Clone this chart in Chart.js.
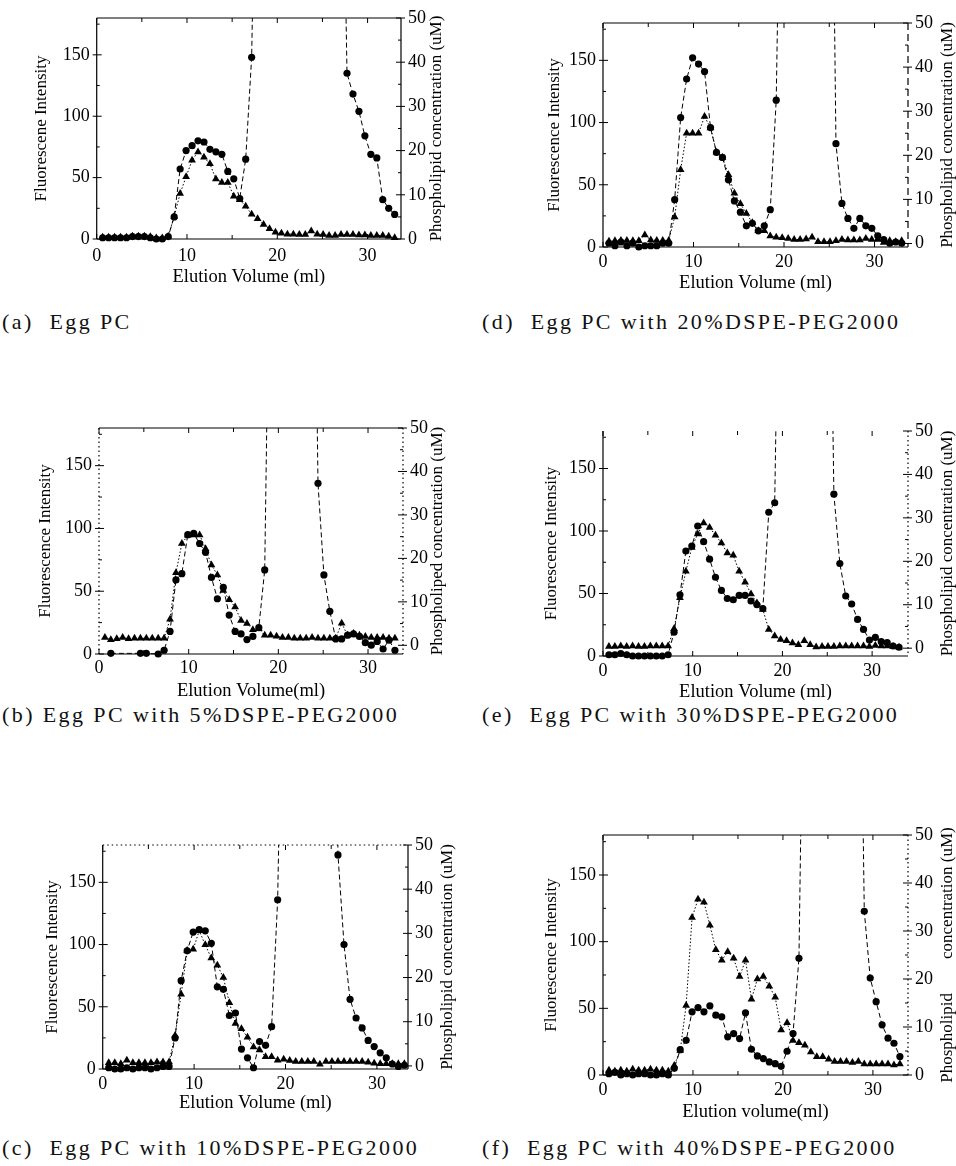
<!DOCTYPE html>
<html>
<head>
<meta charset="utf-8">
<script src="https://cdn.jsdelivr.net/npm/chart.js@4.4.1/dist/chart.umd.min.js"></script>
<style>
  html, body { margin: 0; padding: 0; background: #fff; }
  body { width: 956px; height: 1166px; position: relative; overflow: hidden; }
  canvas { position: absolute; }
  .cap { position: absolute; font-family: "Liberation Serif", serif; font-size: 22px; letter-spacing: 2.4px; white-space: pre; color: #111; line-height: 26px; }
</style>
</head>
<body>
<script>
// ---------- DATA ----------
// Elution volume of each collected fraction (ml)
const volumes = [0.66,1.32,1.98,2.64,3.3,3.96,4.62,5.28,5.94,6.6,7.26,7.92,8.58,9.24,9.9,10.56,11.22,11.88,12.54,13.2,13.86,14.52,15.18,15.84,16.5,17.16,17.82,18.48,19.14,19.8,20.46,21.12,21.78,22.44,23.1,23.76,24.42,25.08,25.74,26.4,27.06,27.72,28.38,29.04,29.7,30.36,31.02,31.68,32.34,33.0];

// Tick labels
const xTicks = [0, 10, 20, 30];
const fluoTicks = [0, 50, 100, 150];
const lipidTicks = [0, 10, 20, 30, 40, 50];

// (a) Egg PC
const fluoA = [1,1,1,1,1,2,2,2,1,0,0, 2,18,57,72,76,80,79,73,71,69,55,49,33,65,148, 420,900,1400,1700,1800,1750,1600,1400,1200,1000,850,700,600,500,420, 135,118,104,84,69,66,32,25,20];
const lipidA = [0.4,0.4,0.4,0.4,0.4,0.6,0.6,0.6,0.5,0.2,0.2, 0.6,5.1,10.3,14.1,17.8,19.7,18.5,17.0,13.6,12.8,12.8,9.7,8.9,7.4,5.6,4.6,3.3,2.3,1.5,1.3, 1.1,1.1,1.0,1.0,1.8,1.1,1.0,0.8,0.8,1.0,1.0,1.0,0.9,0.9,0.8,0.8,0.8,0.6,0.3];

// (b) Egg PC with 5%DSPE-PEG2000
const fluoB = [null,0.5,null,null,null,null,0.5,0.5,null,0,3, 18,59,64,95,96,88,81,61,44,53,31,18,16,11.5,14,21,67, 400,850,1300,1500,1400,1200,900,500, 136,63,34,12,12,15,16,14,9,7,10,4,11,3];
const lipidB = [1.8,1.3,1.5,1.8,1.5,1.6,1.6,1.6,1.6,1.6,1.6, 6.0,16.7,23.4,25.3,25.4,25.4,22.2,18.5,16.2,12.6,10.5,8.8,5.7,5.0,3.6,3.8,2.3,2.3, 2.1,1.8,1.8,1.6,1.6,1.6,1.8,1.6,1.6,1.6,1.6,5.1,2.3,2.7,2.3,2.0,1.8,1.8,1.8,1.6,1.6];

// (c) Egg PC with 10%DSPE-PEG2000
const fluoC = [1,0,0,1,0,1,1,0,1,2,2, 25,71,95,110,112,111,101,66,64,43,45,16,9,1,22,19,34,136, 400,850,1300,1600,1700,1600,1300,900,600, 172,100,56,41,33,23,18,13,9,4,2,3];
const lipidC = [0.7,0.7,0.5,1.3,0.7,0.7,0.7,0.7,0.9,0.9,0.9, 6.9,16.2,26.1,26.4,30.6,27.4,24.4,22.8,20,14.3,9.6,8.4,6.5,4.3,3.6,2.1,2.1,1.3, 1.5,1.2,1.0,1.0,1.0,1.0,0.4,1.0,1.0,1.0,1.0,1.0,1.0,1.0,0.8,0.6,0.5,0.5,0.5,0.5,0.5];

// (d) Egg PC with 20%DSPE-PEG2000
const fluoD = [3,1,4,1,3,0,1,1,1,3,3, 38,104,135,152,147,141,96,76,72,54,37,28,17,19,13,17,30,118, 420,900,1300,1500,1400,1200,900,700,500, 83,35,23,15,23,17,15,9,6,3,4,3];
const lipidD = [0.5,0.6,0.7,0.7,0.6,0.6,1.9,0.8,0.7,0.7,0.7, 6.0,16.7,25.0,25.0,25.0,28.8,26.2,20.7,19.5,15.6,11.4,9.0,6.8,4.7,2.9,2.9,1.7,1.4, 1.3,1.1,0.9,0.9,1.0,1.4,0.4,0.4,0.4,0.6,0.9,0.8,0.8,0.8,1.1,0.9,0.9,0.2,0.6,0.4,0.6];

// (e) Egg PC with 30%DSPE-PEG2000
const fluoE = [1,1,2,1,0,0,0,0,0,0,1, 19,49,84,88,104,91.5,77.5,63,52.5,46,45,48.5,48.5,44,41,38,115,122.6, 420,900,1300,1500,1450,1300,1000,700,450, 129.5,74,48,41.6,29.3,21.3,12.8,14.9,11.5,10.7,8,7];
const lipidE = [0.4,0.4,0.5,0.4,0.5,0.4,0.4,0.5,0.5,0.5,0.5, 4.5,11.6,17.7,23.2,26.3,28.8,27.8,26,24.2,21.9,21.4,17.7,15.2,12.5,10.4,8.9,4.3,2.8,2.0,1.7,1.2,0.8,1.7, 0.8,0.3,0.4,0.4,0.4,0.5,0.5,0.5,0.5,0.5,0.4,0.6,0.5,0.5,0.4,0.2];

// (f) Egg PC with 40%DSPE-PEG2000
const fluoF = [1,2,0,1,0,1,1,0,0,1,0, 5,19,26,47.4,50.6,47.4,51.9,44.9,43.6,28.6,31.1,27.3,46.6,19.3,14.3,12.3,9.8,8.5,6.5,17.8,31.1,87.5, 400,850,1300,1500,1600,1500,1300,1000,700,450, 122.8,72.7,55,37.6,27.6,23.8,13.8];
const lipidF = [1.0,0.8,1.0,0.8,1.2,1.0,1.0,1.2,1.0,1.0,0.8, 2.0,5.1,14.5,32.8,36.6,36.0,31.2,26.1,23.9,25.7,24.3,20.5,23.9,15.8,20.0,20.5,18.5,16.2,9.4,10.9, 7.2,6.7,6.2,4.8,3.8,3.8,3.3,2.8,2.8,2.8,2.6,2.8,2.3,2.3,2.3,2.3,2.3,2.1,2.3];

// Texts
const captions = {
  a: '(a)  Egg PC',
  b: '(b) Egg PC with 5%DSPE-PEG2000',
  c: '(c)  Egg PC with 10%DSPE-PEG2000',
  d: '(d)  Egg PC with 20%DSPE-PEG2000',
  e: '(e)  Egg PC with 30%DSPE-PEG2000',
  f: '(f)  Egg PC with 40%DSPE-PEG2000'
};

// ---------- LAYOUT (positions / styles only) ----------
const panels = [
  {key:'a', fluo:fluoA, lipid:lipidA, box:[0,0,478,300],   L:96.7, R:401, T:18,  B:239,  xMax:33.7, rMin:0,
   xTitle:'Elution Volume (ml)', lTitle:'Fluorescene Intensity', rTitle:'Phospholipid concentration (uM)',
   lOff:55, rOff:36, xOff:38, xPad:6, sides:{top:'solid',bottom:'solid',left:'solid',right:'solid'}, cap:[2,322]},
  {key:'d', fluo:fluoD, lipid:lipidD, box:[478,0,478,300], L:603, R:908, T:23, B:247, xMax:33.7, rMin:-0.8,
   xTitle:'Elution Volume (ml)', lTitle:'Fluorescence Intensity', rTitle:'Phospholipid concentration (uM)',
   lOff:48, rOff:40, xOff:36, xPad:4, sides:{top:'solid',bottom:'solid',left:'solid',right:'dashed'}, cap:[482,322]},
  {key:'b', fluo:fluoB, lipid:lipidB, box:[0,390,478,310], L:99, R:403, T:428, B:654, xMax:33.9, rMin:-2,
   xTitle:'Elution Volume(ml)', lTitle:'Fluorescence Intensity', rTitle:'Phospholiped concentration (uM)',
   lOff:53, rOff:35, xOff:37, xPad:3, sides:{top:'solid',bottom:'solid',left:'dotted',right:'dotted'}, cap:[2,715]},
  {key:'e', fluo:fluoE, lipid:lipidE, box:[478,390,478,310], L:603, R:908, T:431, B:656, xMax:34.0, rMin:-1.8,
   xTitle:'Elution Volume (ml)', lTitle:'Fluorescence Intensity', rTitle:'Phospholipid concentration (uM)',
   lOff:51, rOff:40, xOff:36, xPad:4, sides:{top:'none',bottom:'solid',left:'solid',right:'dotted'}, cap:[482,715]},
  {key:'c', fluo:fluoC, lipid:lipidC, box:[0,790,478,340], L:102.7, R:408, T:845, B:1069, xMax:33.4, rMin:-0.7,
   xTitle:'Elution Volume (ml)', lTitle:'Fluorescence Intensity', rTitle:'Phospholipid concentration (uM)',
   lOff:50, rOff:40, xOff:34, xPad:4, sides:{top:'dotted',bottom:'solid',left:'solid',right:'solid'}, cap:[2,1148]},
  {key:'f', fluo:fluoF, lipid:lipidF, box:[478,790,478,340], L:603, R:908, T:835, B:1075, xMax:33.9, rMin:0,
   xTitle:'Elution volume(ml)', lTitle:'Fluorescence Intensity', rTitle:'Phospholipid        concentration (uM)',
   lOff:51, rOff:40, xOff:37, xPad:4, sides:{top:'solid',bottom:'solid',left:'solid',right:'dotted'}, cap:[482,1148]}
];

const FONT = '"Liberation Serif", "Times New Roman", serif';
Chart.defaults.font.family = FONT;
Chart.defaults.color = '#000';

const framePlugin = {
  id: 'frame',
  afterDraw(chart, args, o) {
    const {ctx, chartArea: a, scales} = chart;
    const xs = scales.x, yl = scales.yL, yr = scales.yR;
    ctx.save();
    ctx.strokeStyle = '#000';
    ctx.lineWidth = 1.2;
    const side = (style, x1, y1, x2, y2) => {
      if (style === 'none') return;
      ctx.setLineDash(style === 'dotted' ? [1.5, 3] : style === 'dashed' ? [7, 4] : []);
      ctx.beginPath(); ctx.moveTo(x1, y1); ctx.lineTo(x2, y2); ctx.stroke();
    };
    side(o.sides.top, a.left, a.top, a.right, a.top);
    side(o.sides.bottom, a.left, a.bottom, a.right, a.bottom);
    side(o.sides.left, a.left, a.top, a.left, a.bottom);
    side(o.sides.right, a.right, a.top, a.right, a.bottom);
    ctx.setLineDash([]);
    ctx.lineWidth = 1;
    ctx.beginPath();
    for (let v = 0; v <= xs.max; v += 5) {
      const p = xs.getPixelForValue(v);
      const len = v % 10 === 0 ? 5 : 4;
      ctx.moveTo(p, a.bottom); ctx.lineTo(p, a.bottom - len);
      ctx.moveTo(p, a.top); ctx.lineTo(p, a.top + len);
    }
    for (let v = 0; v <= yl.max; v += 25) {
      const p = yl.getPixelForValue(v);
      ctx.moveTo(a.left, p); ctx.lineTo(a.left + (v % 50 === 0 ? 5 : 3), p);
      if (v % 50 === 0) { ctx.moveTo(a.left - 4, p); ctx.lineTo(a.left, p); }
    }
    for (let v = 0; v <= yr.max; v += 5) {
      const p = yr.getPixelForValue(v);
      ctx.moveTo(a.right, p); ctx.lineTo(a.right - (v % 10 === 0 ? 5 : 3), p);
      if (v % 10 === 0) { ctx.moveTo(a.right, p); ctx.lineTo(a.right + 4, p); }
    }
    ctx.stroke();
    ctx.fillStyle = '#000';
    ctx.textAlign = 'center';
    ctx.textBaseline = 'middle';
    ctx.font = '18.5px ' + FONT;
    ctx.fillText(o.xTitle, (a.left + a.right) / 2, a.bottom + o.xOff);
    ctx.font = '17px ' + FONT;
    ctx.save();
    ctx.translate(a.left - o.lOff, (a.top + a.bottom) / 2);
    ctx.rotate(-Math.PI / 2);
    ctx.fillText(o.lTitle, 0, 0);
    ctx.restore();
    ctx.save();
    ctx.translate(a.right + o.rOff, (a.top + a.bottom) / 2);
    ctx.rotate(-Math.PI / 2);
    ctx.fillText(o.rTitle, 0, 0);
    ctx.restore();
    ctx.restore();
  }
};

function setTicks(arr) {
  return scale => { scale.ticks = arr.map(v => ({ value: v })); };
}

panels.forEach(p => {
  const [bx, by, bw, bh] = p.box;
  const cv = document.createElement('canvas');
  cv.width = bw; cv.height = bh;
  cv.style.left = bx + 'px'; cv.style.top = by + 'px';
  cv.style.width = bw + 'px'; cv.style.height = bh + 'px';
  document.body.appendChild(cv);

  const lw = p.L - bx, rw = bx + bw - p.R, pt = p.T - by, xh = by + bh - p.B;

  new Chart(cv.getContext('2d'), {
    type: 'line',
    data: {
      datasets: [
        {
          label: 'Fluorescence',
          data: volumes.map((v, i) => ({ x: v, y: p.fluo[i] })),
          yAxisID: 'yL',
          borderColor: '#000', backgroundColor: '#000', borderWidth: 1,
          borderDash: [5, 3],
          pointStyle: 'circle', pointRadius: 3.6, pointBorderWidth: 0,
          pointBackgroundColor: '#000',
          spanGaps: true,
          clip: { left: 6, right: 6, top: 0, bottom: 6 }
        },
        {
          label: 'Phospholipid',
          data: volumes.map((v, i) => ({ x: v, y: p.lipid[i] })),
          yAxisID: 'yR',
          borderColor: '#000', backgroundColor: '#000', borderWidth: 1,
          borderDash: [1.5, 2],
          pointStyle: 'triangle', pointRadius: 4.5, pointBorderWidth: 0,
          pointBackgroundColor: '#000',
          clip: { left: 6, right: 6, top: 0, bottom: 6 }
        }
      ]
    },
    options: {
      responsive: false,
      animation: false,
      devicePixelRatio: 1,
      layout: { autoPadding: false, padding: { top: pt, left: 0, right: 0, bottom: 0 } },
      plugins: {
        legend: { display: false },
        tooltip: { enabled: false },
        frame: { sides: p.sides, xTitle: p.xTitle, lTitle: p.lTitle, rTitle: p.rTitle, lOff: p.lOff, rOff: p.rOff, xOff: p.xOff }
      },
      scales: {
        x: {
          type: 'linear', min: 0, max: p.xMax,
          afterBuildTicks: setTicks(xTicks),
          afterFit: s => { s.height = xh; },
          grid: { display: false, drawTicks: false },
          border: { display: false },
          ticks: { padding: p.xPad, font: { size: 18 }, color: '#000', maxRotation: 0 }
        },
        yL: {
          type: 'linear', position: 'left', min: 0, max: 180,
          afterBuildTicks: setTicks(fluoTicks),
          afterFit: s => { s.width = lw; },
          grid: { display: false, drawTicks: false },
          border: { display: false },
          ticks: { padding: 7, font: { size: 18 }, color: '#000' }
        },
        yR: {
          type: 'linear', position: 'right', min: p.rMin, max: 50,
          afterBuildTicks: setTicks(lipidTicks),
          afterFit: s => { s.width = rw; },
          grid: { display: false, drawTicks: false },
          border: { display: false },
          ticks: { padding: 7, font: { size: 18 }, color: '#000' }
        }
      }
    },
    plugins: [framePlugin]
  });

  const cap = document.createElement('div');
  cap.className = 'cap';
  cap.textContent = captions[p.key];
  cap.style.left = p.cap[0] + 'px';
  cap.style.top = (p.cap[1] - 13) + 'px';
  document.body.appendChild(cap);
});
</script>
</body>
</html>
